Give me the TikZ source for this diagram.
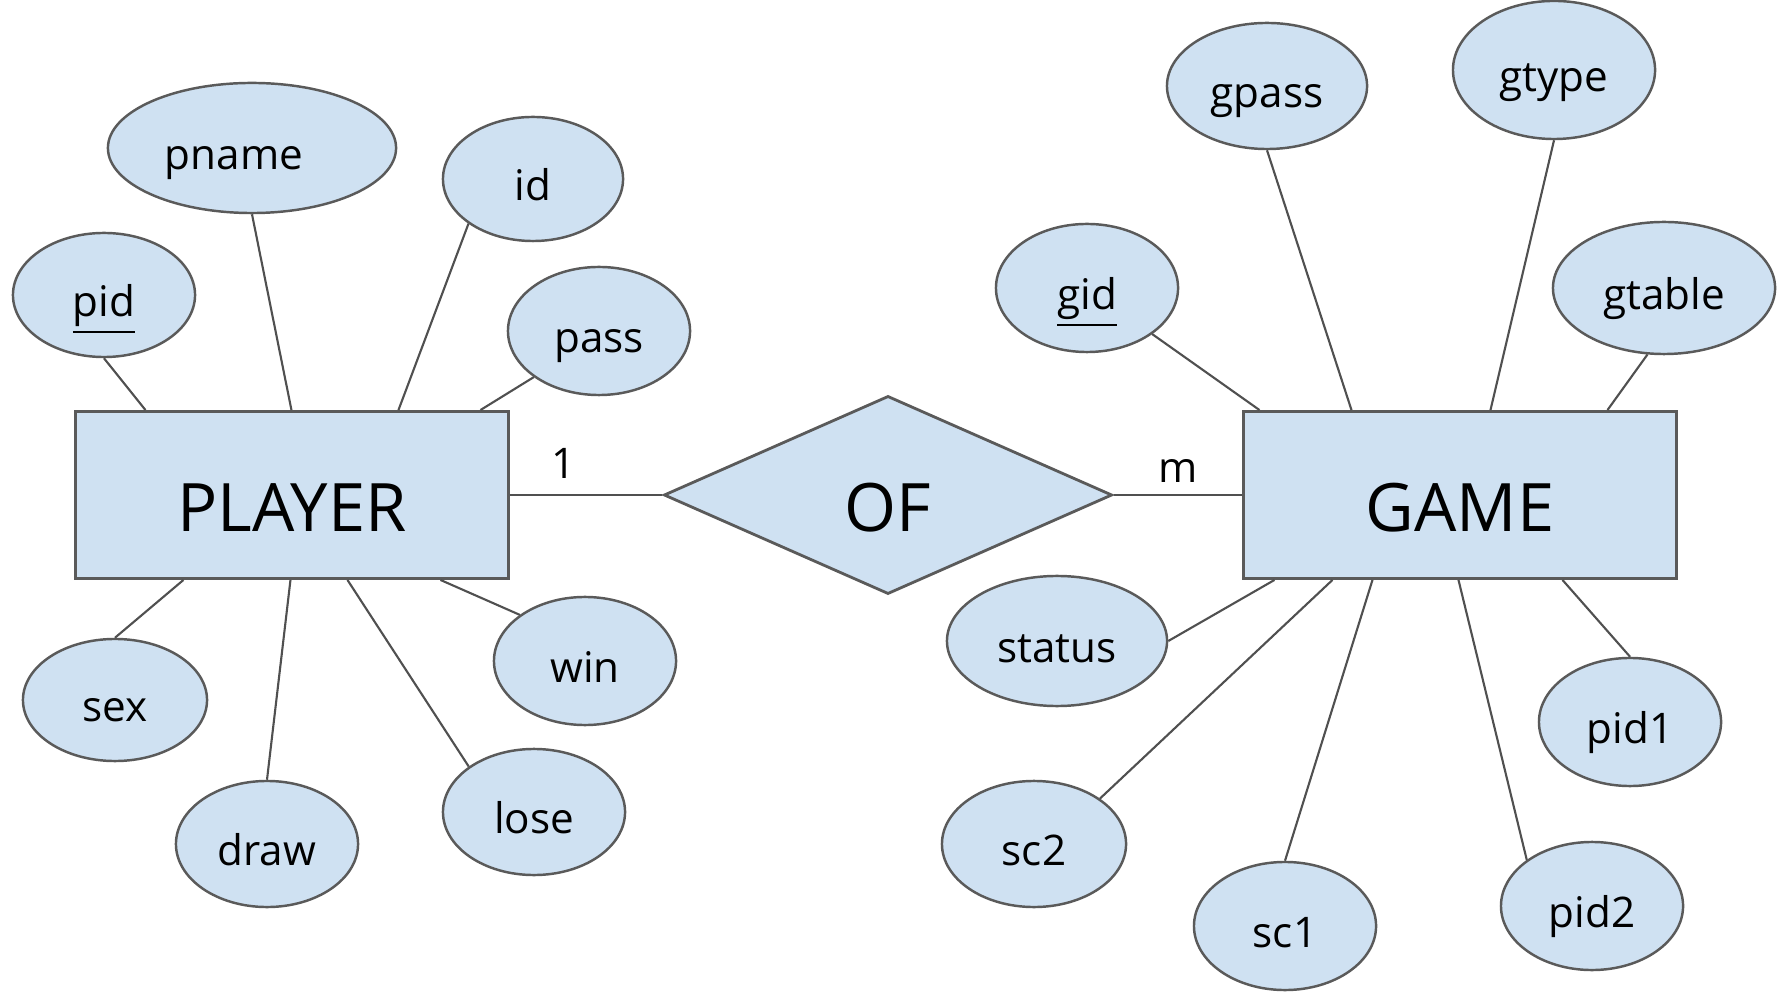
\documentclass[tikz,border=0pt]{standalone}
\usepackage{fontspec}
\setmainfont{Open Sans}
\usepackage{xcolor}
\definecolor{paleblue}{RGB}{207,225,242}
\definecolor{edgegray}{RGB}{90,90,90}
\definecolor{linkgray}{RGB}{80,80,80}
\usepackage{tikz}
\usetikzlibrary{positioning,calc,shapes.geometric}
\tikzset{
  %% Entities and the relationship
  erent/.style={draw=edgegray, fill=paleblue, line width=0.8pt,
    minimum width=4.32cm, minimum height=1.67cm,
    text height=20.5pt, text depth=0pt,
    font=\fontsize{19}{22}\selectfont},
  errel/.style={diamond, draw=edgegray, fill=paleblue, line width=0.8pt,
    minimum width=4.48cm, minimum height=1.98cm, inner sep=0pt,
    text height=20.5pt, text depth=0pt,
    font=\fontsize{19}{22}\selectfont},
  %% Attributes
  erattr/.style={ellipse, draw=edgegray, fill=paleblue, line width=0.7pt,
    minimum width=1.82cm, minimum height=1.26cm, inner sep=1pt,
    text height=12.5pt, text depth=0pt,
    font=\fontsize{12}{14}\selectfont},
  erlink/.style={draw=linkgray, line width=0.6pt},
  card/.style={font=\fontsize{12}{14}\selectfont, above=1pt},
}

\begin{document}
\begin{tikzpicture}[x=0.01cm, y=-0.01cm]
\useasboundingbox (0,0) rectangle (1780,992);

% entities and relationship
\node[erent] (player) at (292,495) {PLAYER};
\node[errel] (of) at (888,495) {OF};
\node[erent] (game) at (1460,495) {GAME};

\draw[erlink] (player) -- node[card, pos=0.35] (one) {1} (of);
\draw[erlink] (of) -- node[card, pos=0.5, above=0pt] (many) {m} (game);

% player attributes
\node[erattr, minimum width=2.88cm, minimum height=1.30cm] (pname) at (252,148) {pname\kern0.36cm};
\node[erattr, minimum width=1.80cm, minimum height=1.24cm] (id) at (533,179) {id};
\node[erattr, minimum height=1.24cm] (pid) at (104,295) {\underline{pid}};
\node[erattr, minimum height=1.28cm] (pass) at (599,331) {pass};
\node[erattr, minimum width=1.84cm, minimum height=1.22cm] (sex) at (115,700) {sex};
\node[erattr, minimum height=1.28cm] (win) at (585,661) {win};
\node[erattr, minimum height=1.26cm] (draw) at (267,844) {draw};
\node[erattr, minimum height=1.26cm] (lose) at (534,812) {lose};

\foreach \a/\at/\dx in {pid/south/71, pname/south/217, id/south west/324, pass/south west/406}
  \draw[erlink] (\a.\at) -- ($(player.north west)+(\dx,0)$);
\foreach \a/\at/\dx in {sex/north/109, draw/north/216, lose/north west/273, win/north west/366}
  \draw[erlink] (\a.\at) -- ($(player.south west)+(\dx,0)$);

% game attributes
\node[erattr, minimum width=2.00cm, minimum height=1.26cm] (gpass) at (1267,86) {gpass};
\node[erattr, minimum width=2.02cm, minimum height=1.38cm] (gtype) at (1554,70) {gtype};
\node[erattr, minimum height=1.28cm] (gid) at (1087,288) {\underline{gid}};
\node[erattr, minimum width=2.22cm, minimum height=1.32cm] (gtable) at (1664,288) {gtable};
\node[erattr, minimum width=2.20cm, minimum height=1.30cm] (status) at (1057,641) {status};
\node[erattr, minimum height=1.28cm] (pid1) at (1630,722) {pid1};
\node[erattr, minimum width=1.84cm, minimum height=1.26cm] (sc2) at (1034,844) {sc2};
\node[erattr, minimum height=1.28cm] (sc1) at (1285,926) {sc1};
\node[erattr, minimum height=1.28cm] (pid2) at (1592,906) {pid2};

\foreach \a/\at/\dx in {gid/south east/17, gpass/south/109, gtype/south/248, gtable/256/365}
  \draw[erlink] (\a.\at) -- ($(game.north west)+(\dx,0)$);
\foreach \a/\at/\dx in {status/east/32, sc2/north east/90, sc1/north/130, pid2/north west/216, pid1/north/320}
  \draw[erlink] (\a.\at) -- ($(game.south west)+(\dx,0)$);
\end{tikzpicture}
\end{document}
